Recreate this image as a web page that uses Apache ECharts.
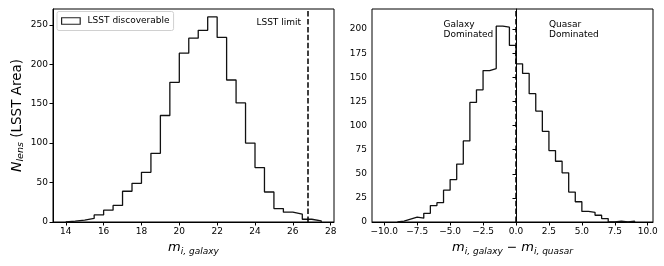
<!DOCTYPE html>
<html><head><meta charset="utf-8">
<script src="https://cdn.jsdelivr.net/npm/echarts@6/dist/echarts.min.js"></script>
<style>html,body{margin:0;padding:0;background:#fff}#c{width:664px;height:266px}</style>
</head><body><div id="c"></div>
<script>
// ---- data ----
const leftBinStart = 14;
const leftBinWidth = 0.5;
const leftCounts = [1, 2.5, 4.5, 9, 15, 21, 39, 49, 63, 87, 135, 177, 214, 233, 243, 260, 234, 180, 151, 100, 69, 38, 17, 12.5, 10, 3.5, 1.5];
const rightBinStart = -9;
const rightBinWidth = 0.5;
const rightCounts = [1, 3, 5, 4, 9, 17, 20, 33, 44, 60, 84, 124, 137, 157, 159, 203, 202, 183, 164, 154, 133, 115, 94, 74, 63, 51, 31, 21, 11, 10, 7, 3.5, 0, 1, 0, 1];
const leftXTicks = [14, 16, 18, 20, 22, 24, 26, 28];
const leftYTicks = [0, 50, 100, 150, 200, 250];
const rightXTicks = [-10, -7.5, -5, -2.5, 0, 2.5, 5, 7.5, 10];
const rightYTicks = [0, 25, 50, 75, 100, 125, 150, 175, 200];
const lsstLimit = 26.8;
const splitValue = 0;
const legendName = 'LSST discoverable';

function stepData(start, width, counts) {
  const pts = [[start, 0]];
  counts.forEach((c, i) => pts.push([start + i * width, c]));
  pts.push([start + counts.length * width, 0]);
  return pts;
}

const FONT = 'DejaVu Sans';
const minus = v => (v < 0 ? '\u2212' : '') + Math.abs(v);
const tickLabel = (vals, fmt) => ({
  customValues: vals, fontSize: 9, color: '#000', fontFamily: FONT, margin: 5,
  formatter: fmt
});
const tick = vals => ({ show: true, customValues: vals, length: 3.5, lineStyle: { color: '#000', width: 1 } });
const axisLine = { show: true, lineStyle: { color: '#000', width: 1 } };

const subRich = {
  m: { fontFamily: FONT, fontStyle: 'italic', fontSize: 13, color: '#000', lineHeight: 17 },
  s: { fontFamily: FONT, fontStyle: 'italic', fontSize: 9, color: '#000', lineHeight: 9, verticalAlign: 'bottom' },
  t: { fontFamily: FONT, fontSize: 12.5, color: '#000', lineHeight: 17 }
};
const yRich = {
  m: { fontFamily: FONT, fontStyle: 'italic', fontSize: 14, color: '#000', lineHeight: 18 },
  s: { fontFamily: FONT, fontStyle: 'italic', fontSize: 9.5, color: '#000', lineHeight: 9.5, verticalAlign: 'bottom' },
  t: { fontFamily: FONT, fontSize: 13.5, color: '#000', lineHeight: 18 }
};

const chart = echarts.init(document.getElementById('c'), null, { renderer: 'canvas' });
chart.setOption({
  animation: false,
  grid: [
    { left: 53, right: 330, top: 9, bottom: 44, show: true, borderColor: '#000', borderWidth: 1 },
    { left: 372, right: 11, top: 9, bottom: 44, show: true, borderColor: '#000', borderWidth: 1 }
  ],
  legend: {
    data: [{ name: legendName, icon: 'rect', itemStyle: { color: '#fff', borderColor: '#222', borderWidth: 1.2 } }],
    left: 57, top: 11.5, itemWidth: 18.6, itemHeight: 6.5,
    padding: [5, 4, 5, 4], borderColor: '#d0d0d0', borderWidth: 1, borderRadius: 2,
    selectedMode: false,
    textStyle: { fontFamily: FONT, fontSize: 9, color: '#000', lineHeight: 9, padding: [0, 0, 0, 2.4] }
  },
  xAxis: [
    { type: 'value', gridIndex: 0, min: 13.325, max: 28.175,
      axisLine, axisTick: tick(leftXTicks), axisLabel: tickLabel(leftXTicks, v => minus(v)), splitLine: { show: false },
      name: '{m|m}{s|i, galaxy}', nameLocation: 'middle', nameGap: 11,
      nameTextStyle: { rich: subRich } },
    { type: 'value', gridIndex: 1, min: -10.93, max: 10.4,
      axisLine, axisTick: tick(rightXTicks), axisLabel: tickLabel(rightXTicks, v => (v < 0 ? '\u2212' : '') + Math.abs(v).toFixed(1)), splitLine: { show: false },
      name: '{m|m}{s|i, galaxy}{t| \u2212 }{m|m}{s|i, quasar}', nameLocation: 'middle', nameGap: 11,
      nameTextStyle: { rich: subRich } }
  ],
  yAxis: [
    { type: 'value', gridIndex: 0, min: 0, max: 270,
      axisLine, axisTick: tick(leftYTicks), axisLabel: tickLabel(leftYTicks, v => String(v)), splitLine: { show: false },
      name: '{m|N}{s|lens}{t| (LSST Area)}', nameLocation: 'middle', nameGap: 27,
      nameTextStyle: { rich: yRich } },
    { type: 'value', gridIndex: 1, min: 0, max: 220.8,
      axisLine, axisTick: tick(rightYTicks), axisLabel: tickLabel(rightYTicks, v => String(v)), splitLine: { show: false } }
  ],
  series: [
    { name: legendName, type: 'line', xAxisIndex: 0, yAxisIndex: 0, step: 'end', symbol: 'none', silent: true,
      data: stepData(leftBinStart, leftBinWidth, leftCounts),
      lineStyle: { color: '#111', width: 1.3 }, itemStyle: { color: '#111' },
      markLine: { silent: true, symbol: 'none', label: { show: false },
        lineStyle: { color: '#000', width: 1.5, type: [5.5, 2.4] }, data: [{ xAxis: lsstLimit }] } },
    { name: 'diff', type: 'line', xAxisIndex: 1, yAxisIndex: 1, step: 'end', symbol: 'none', silent: true,
      data: stepData(rightBinStart, rightBinWidth, rightCounts),
      lineStyle: { color: '#111', width: 1.3 }, itemStyle: { color: '#111' },
      markLine: { silent: true, symbol: 'none', label: { show: false },
        lineStyle: { color: '#000', width: 1.5, type: [5.5, 2.4] }, data: [{ xAxis: splitValue }] } }
  ],
  graphic: [
    { type: 'text', style: { text: 'LSST limit', x: 301, y: 23, align: 'right', verticalAlign: 'middle', fontFamily: FONT, fontSize: 9, fill: '#000' } },
    { type: 'text', style: { text: 'Galaxy\nDominated', x: 443.5, y: 20, align: 'left', verticalAlign: 'top', lineHeight: 10, fontFamily: FONT, fontSize: 9, fill: '#000' } },
    { type: 'text', style: { text: 'Quasar\nDominated', x: 549, y: 20, align: 'left', verticalAlign: 'top', lineHeight: 10, fontFamily: FONT, fontSize: 9, fill: '#000' } }
  ]
});
</script></body></html>
